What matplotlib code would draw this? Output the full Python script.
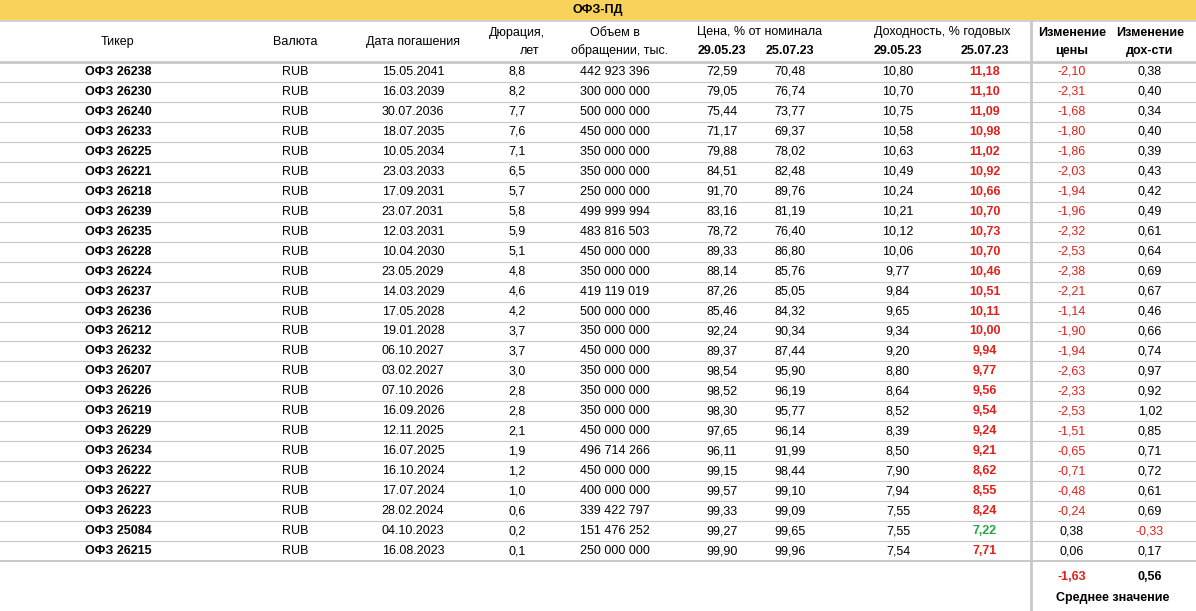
import matplotlib
matplotlib.use("Agg")
import matplotlib.pyplot as plt

tickers = ["ОФЗ 26238","ОФЗ 26230","ОФЗ 26240","ОФЗ 26233","ОФЗ 26225","ОФЗ 26221","ОФЗ 26218","ОФЗ 26239",
           "ОФЗ 26235","ОФЗ 26228","ОФЗ 26224","ОФЗ 26237","ОФЗ 26236","ОФЗ 26212","ОФЗ 26232","ОФЗ 26207",
           "ОФЗ 26226","ОФЗ 26219","ОФЗ 26229","ОФЗ 26234","ОФЗ 26222","ОФЗ 26227","ОФЗ 26223","ОФЗ 25084","ОФЗ 26215"]
currency = ["RUB"] * 25
maturity = ["15.05.2041","16.03.2039","30.07.2036","18.07.2035","10.05.2034","23.03.2033","17.09.2031","23.07.2031",
            "12.03.2031","10.04.2030","23.05.2029","14.03.2029","17.05.2028","19.01.2028","06.10.2027","03.02.2027",
            "07.10.2026","16.09.2026","12.11.2025","16.07.2025","16.10.2024","17.07.2024","28.02.2024","04.10.2023","16.08.2023"]
duration = [8.8,8.2,7.7,7.6,7.1,6.5,5.7,5.8,5.9,5.1,4.8,4.6,4.2,3.7,3.7,3.0,2.8,2.8,2.1,1.9,1.2,1.0,0.6,0.2,0.1]
volume = [442923396,300000000,500000000,450000000,350000000,350000000,250000000,499999994,483816503,450000000,
          350000000,419119019,500000000,350000000,450000000,350000000,350000000,350000000,450000000,496714266,
          450000000,400000000,339422797,151476252,250000000]
price_may = [72.59,79.05,75.44,71.17,79.88,84.51,91.70,83.16,78.72,89.33,88.14,87.26,85.46,92.24,89.37,98.54,
             98.52,98.30,97.65,96.11,99.15,99.57,99.33,99.27,99.90]
price_jul = [70.48,76.74,73.77,69.37,78.02,82.48,89.76,81.19,76.40,86.80,85.76,85.05,84.32,90.34,87.44,95.90,
             96.19,95.77,96.14,91.99,98.44,99.10,99.09,99.65,99.96]
yield_may = [10.80,10.70,10.75,10.58,10.63,10.49,10.24,10.21,10.12,10.06,9.77,9.84,9.65,9.34,9.20,8.80,
             8.64,8.52,8.39,8.50,7.90,7.94,7.55,7.55,7.54]
yield_jul = [11.18,11.10,11.09,10.98,11.02,10.92,10.66,10.70,10.73,10.70,10.46,10.51,10.11,10.00,9.94,9.77,
             9.56,9.54,9.24,9.21,8.62,8.55,8.24,7.22,7.71]
price_chg = [-2.10,-2.31,-1.68,-1.80,-1.86,-2.03,-1.94,-1.96,-2.32,-2.53,-2.38,-2.21,-1.14,-1.90,-1.94,-2.63,
             -2.33,-2.53,-1.51,-0.65,-0.71,-0.48,-0.24,0.38,0.06]
yield_chg = [0.38,0.40,0.34,0.40,0.39,0.43,0.42,0.49,0.61,0.64,0.69,0.67,0.46,0.66,0.74,0.97,0.92,1.02,0.85,
             0.71,0.72,0.61,0.69,-0.33,0.17]
avg_price_chg = -1.63
avg_yield_chg = 0.56

RED = "#e0201b"
GREEN = "#22a845"
GRID = "#c8c8c8"
FONT = "Liberation Sans"

def f2(v): return f"{v:.2f}".replace(".", ",")
def f1(v): return f"{v:.1f}".replace(".", ",")
def fvol(v): return f"{v:,}".replace(",", " ")

fig = plt.figure(figsize=(11.96, 6.11), dpi=100)
ax = fig.add_axes([0, 0, 1, 1])
ax.set_xlim(0, 1196); ax.set_ylim(611, 0); ax.axis("off")

def t(x, y, s, bold=False, color="black", size=9):
    ax.text(x, y, s, ha="center", va="center", fontsize=size, color=color,
            fontweight="bold" if bold else "normal", family=FONT)

ax.add_patch(plt.Rectangle((0, 0), 1196, 20, color="#f8d25a", lw=0))
t(598, 10, "ОФЗ-ПД", bold=True)
ax.plot([0, 1196], [21, 21], color=GRID, lw=1.2)

t(118, 42, "Тикер"); t(295, 42, "Валюта"); t(413, 42, "Дата погашения")
t(517, 33, "Дюрация,"); t(530, 51, "лет")
t(615, 33, "Объем в"); t(620, 51, "обращении, тыс.")
t(760, 32, "Цена, % от номинала"); t(942, 32, "Доходность, % годовых")
for x, s in [(722, "29.05.23"), (790, "25.07.23"), (898, "29.05.23"), (985, "25.07.23")]:
    t(x, 51, s, bold=True)
t(1072, 33, "Изменение", bold=True); t(1150, 33, "Изменение", bold=True)
t(1072, 51, "цены", bold=True); t(1150, 51, "дох-сти", bold=True)
ax.plot([0, 1196], [62, 62], color=GRID, lw=2)

for i in range(len(tickers)):
    y = 72 + 19.96 * i
    t(118, y, tickers[i], bold=True)
    t(295, y, currency[i]); t(413, y, maturity[i]); t(517, y, f1(duration[i]))
    t(615, y, fvol(volume[i]))
    t(722, y, f2(price_may[i])); t(790, y, f2(price_jul[i])); t(898, y, f2(yield_may[i]))
    t(985, y, f2(yield_jul[i]), bold=True, color=GREEN if yield_jul[i] < yield_may[i] else RED)
    t(1072, y, f2(price_chg[i]), color=RED if price_chg[i] < 0 else "black")
    t(1150, y, f2(yield_chg[i]), color=RED if yield_chg[i] < 0 else "black")
    ax.plot([0, 1196], [y + 10, y + 10], color=GRID, lw=1.4 if i == len(tickers) - 1 else 0.8)

ax.plot([1031, 1031], [21, 611], color=GRID, lw=2)
t(1072, 577, f2(avg_price_chg), bold=True, color=RED if avg_price_chg < 0 else "black")
t(1150, 577, f2(avg_yield_chg), bold=True)
t(1113, 598, "Среднее значение", bold=True)

fig.savefig("out.png", dpi=100, facecolor="white")
